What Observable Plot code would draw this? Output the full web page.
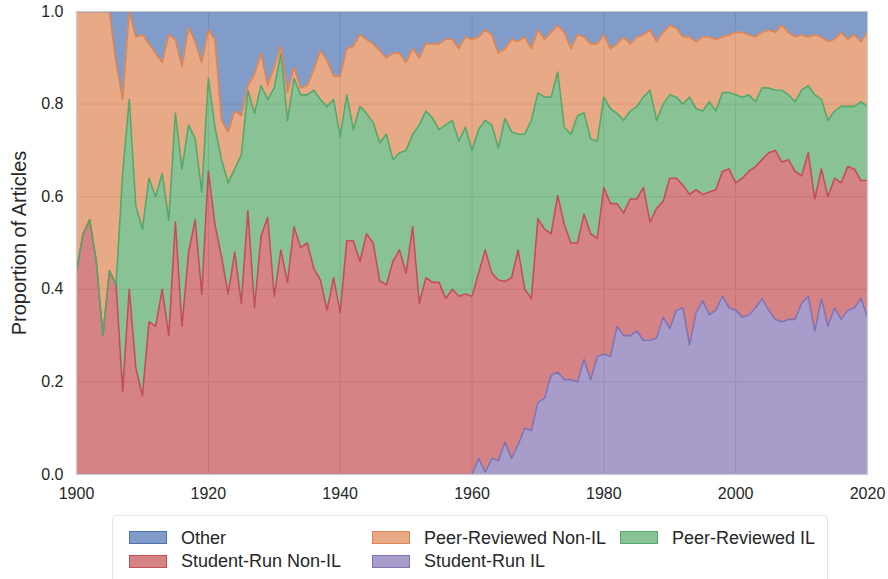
<!DOCTYPE html>
<html>
<head>
<meta charset="utf-8">
<script src="https://cdn.jsdelivr.net/npm/d3@7"></script>
<script src="https://cdn.jsdelivr.net/npm/@observablehq/plot@0.6"></script>
<style>
  body { margin: 0; background: white; font-family: "Liberation Sans", Arial, sans-serif; }
  #wrap { position: relative; width: 888px; height: 579px; overflow: hidden; }
  #legend { position: absolute; left: 112px; top: 515px; width: 716px; height: 72px;
    border: 1px solid #e4e4e4; border-radius: 4px; background: white; box-sizing: border-box; }
  .sw { position: absolute; width: 38px; height: 13px; box-sizing: border-box; border: 1.5px solid; }
  .lt { position: absolute; font-size: 18px; color: #262626; line-height: 18px; white-space: nowrap; }
</style>
</head>
<body>
<div id="wrap"><div id="chart"></div><div id="legend"></div></div>
<script>
const years = d3.range(1900, 2021);

const seriesNames = ["Student-Run IL", "Student-Run Non-IL", "Peer-Reviewed IL", "Peer-Reviewed Non-IL", "Other"];
const seriesColors = ["#8172b3", "#c44e52", "#55a868", "#dd8452", "#4c72b0"];

// Share of articles per year (1900..2020)
const studentRunIL = [
  0,0,0,0,0,0,0,0,0,0,
  0,0,0,0,0,0,0,0,0,0,
  0,0,0,0,0,0,0,0,0,0,
  0,0,0,0,0,0,0,0,0,0,
  0,0,0,0,0,0,0,0,0,0,
  0,0,0,0,0,0,0,0,0,0,
  0, .035, .005, .035, .03, .07, .035, .065, .10, .095,
  .155, .165, .215, .22, .205, .205, .20, .25, .205, .255,
  .26, .255, .32, .30, .30, .31, .29, .29, .295, .34,
  .315, .355, .36, .28, .35, .375, .345, .355, .385, .36,
  .355, .34, .345, .36, .38, .355, .335, .33, .335, .335,
  .37, .385, .31, .38, .32, .36, .335, .355, .36, .38,
  .34
];
const studentRunNonIL = [
  .44, .52, .55, .46, .30, .44, .41, .18, .40, .23,
  .17, .33, .32, .40, .30, .545, .32, .48, .55, .39,
  .655, .54, .47, .39, .48, .37, .57, .36, .515, .555,
  .385, .485, .415, .535, .49, .50, .445, .42, .355, .425,
  .35, .505, .505, .46, .52, .50, .42, .41, .46, .485,
  .435, .535, .37, .425, .415, .415, .38, .40, .385, .39,
  .385, .40, .48, .40, .39, .345, .39, .42, .30, .285,
  .395, .365, .305, .38, .335, .295, .30, .315, .315, .255,
  .36, .33, .265, .265, .295, .285, .33, .255, .28, .25,
  .325, .285, .265, .325, .265, .23, .265, .26, .27, .30,
  .275, .30, .31, .305, .30, .34, .365, .345, .345, .32,
  .275, .31, .285, .28, .28, .28, .295, .31, .30, .255,
  .295
];
const peerReviewedIL = [
  0, 0, 0, 0, 0, 0, 0, .47, .41, .35,
  .36, .31, .28, .25, .25, .235, .34, .275, .175, .22,
  .20, .21, .21, .24, .18, .32, .26, .42, .325, .255,
  .45, .425, .35, .32, .33, .32, .385, .39, .44, .385,
  .38, .315, .24, .335, .26, .26, .30, .325, .22, .21,
  .265, .20, .385, .36, .355, .33, .375, .365, .335, .36,
  .315, .31, .28, .32, .285, .35, .315, .25, .335, .385,
  .27, .285, .295, .265, .21, .235, .275, .22, .205, .21,
  .195, .205, .195, .20, .19, .20, .195, .285, .19, .21,
  .18, .175, .175, .21, .175, .18, .195, .17, .17, .165,
  .19, .175, .165, .14, .155, .14, .13, .155, .14, .15,
  .185, .145, .225, .15, .165, .145, .165, .13, .135, .17,
  .16
];
const peerReviewedNonIL = [
  .56, .48, .45, .54, .70, .56, .48, .16, .19, .365,
  .42, .29, .31, .24, .40, .16, .22, .21, .21, .28,
  .105, .19, .085, .11, .125, .085, .01, .085, .07, .03,
  .045, .015, .06, .025, .015, .02, .045, .105, .10, .05,
  .13, .10, .18, .155, .16, .17, .20, .165, .23, .215,
  .19, .185, .145, .145, .16, .185, .185, .175, .20, .195,
  .24, .20, .195, .195, .205, .15, .20, .20, .21, .155,
  .135, .125, .14, .10, .205, .185, .175, .165, .205, .21,
  .135, .13, .15, .18, .145, .15, .135, .13, .17, .155,
  .15, .15, .145, .13, .145, .16, .14, .155, .12, .125,
  .135, .14, .13, .14, .12, .125, .125, .14, .135, .14,
  .12, .105, .13, .135, .17, .155, .16, .145, .155, .13,
  .16
];
const other = [
  0, 0, 0, 0, 0, 0, .11, .19, 0, .055,
  .05, .07, .09, .11, .05, .06, .12, .035, .065, .11,
  .04, .06, .235, .26, .215, .225, .16, .135, .09, .16,
  .12, .075, .175, .12, .165, .16, .125, .085, .105, .14,
  .14, .08, .075, .05, .06, .07, .085, .10, .09, .09,
  .11, .08, .10, .07, .07, .07, .06, .06, .08, .055,
  .06, .055, .04, .05, .09, .08, .06, .065, .055, .08,
  .04, .06, .045, .03, .045, .08, .05, .055, .07, .07,
  .05, .08, .07, .055, .07, .055, .05, .04, .065, .045,
  .03, .035, .055, .055, .065, .055, .055, .06, .055, .05,
  .045, .045, .05, .055, .045, .04, .045, .03, .045, .055,
  .05, .055, .05, .055, .065, .06, .045, .06, .05, .065,
  .045
];

const xTicks = [1900, 1920, 1940, 1960, 1980, 2000, 2020];
const yTicks = [0, 0.2, 0.4, 0.6, 0.8, 1.0];
const yLabel = "Proportion of Articles";

const seriesValues = [studentRunIL, studentRunNonIL, peerReviewedIL, peerReviewedNonIL, other];
const data = [];
years.forEach((yr, i) => {
  seriesNames.forEach((s, k) => data.push({year: yr, series: s, value: seriesValues[k][i]}));
});

const stackOpts = {x: "year", y: "value", z: "series", order: seriesNames, offset: "normalize"};

const chart = Plot.plot({
  width: 888,
  height: 505,
  marginLeft: 76,
  marginRight: 21,
  marginTop: 11,
  marginBottom: 31,
  style: {fontFamily: "'Liberation Sans', Arial, sans-serif", fontSize: "16px", color: "#262626", background: "white"},
  x: {domain: [1900, 2020], ticks: xTicks, tickFormat: d => String(d), tickSize: 0, tickPadding: 13, label: null},
  y: {domain: [0, 1], ticks: yTicks, tickFormat: d3.format(".1f"), tickSize: 0, tickPadding: 13, label: null},
  color: {domain: seriesNames, range: seriesColors},
  marks: [
    Plot.gridX(xTicks, {stroke: "#cccccc", strokeOpacity: 1, strokeWidth: 1}),
    Plot.gridY(yTicks, {stroke: "#cccccc", strokeOpacity: 1, strokeWidth: 1}),
    Plot.areaY(data, Plot.stackY({...stackOpts, fill: "series", fillOpacity: 0.7})),
    Plot.lineY(data, Plot.stackY2({...stackOpts, stroke: "series", strokeWidth: 1.6, clip: true})),
    Plot.frame({stroke: "#cccccc", strokeWidth: 1.25}),
    Plot.text([yLabel], {text: d => d, frameAnchor: "left", textAnchor: "middle", dx: -57, rotate: -90, fontSize: 20, fill: "#262626"})
  ]
});
document.getElementById("chart").appendChild(chart);

// Legend (matplotlib-style, 3 columns)
const legendItems = [
  {name: "Other", col: 0, row: 0},
  {name: "Student-Run Non-IL", col: 0, row: 1},
  {name: "Peer-Reviewed Non-IL", col: 1, row: 0},
  {name: "Student-Run IL", col: 1, row: 1},
  {name: "Peer-Reviewed IL", col: 2, row: 0}
];
const colX = [16, 259, 507];
const rowY = [15, 38.5];
const legend = document.getElementById("legend");
legendItems.forEach(it => {
  const c = seriesColors[seriesNames.indexOf(it.name)];
  const sw = document.createElement("div");
  sw.className = "sw";
  sw.style.left = colX[it.col] + "px";
  sw.style.top = rowY[it.row] + "px";
  sw.style.borderColor = c;
  sw.style.background = d3.color(c).copy({opacity: 0.7}).formatRgb();
  legend.appendChild(sw);
  const t = document.createElement("div");
  t.className = "lt";
  t.textContent = it.name;
  t.style.left = (colX[it.col] + 52) + "px";
  t.style.top = (rowY[it.row] - 2.5) + "px";
  legend.appendChild(t);
});
</script>
</body>
</html>
